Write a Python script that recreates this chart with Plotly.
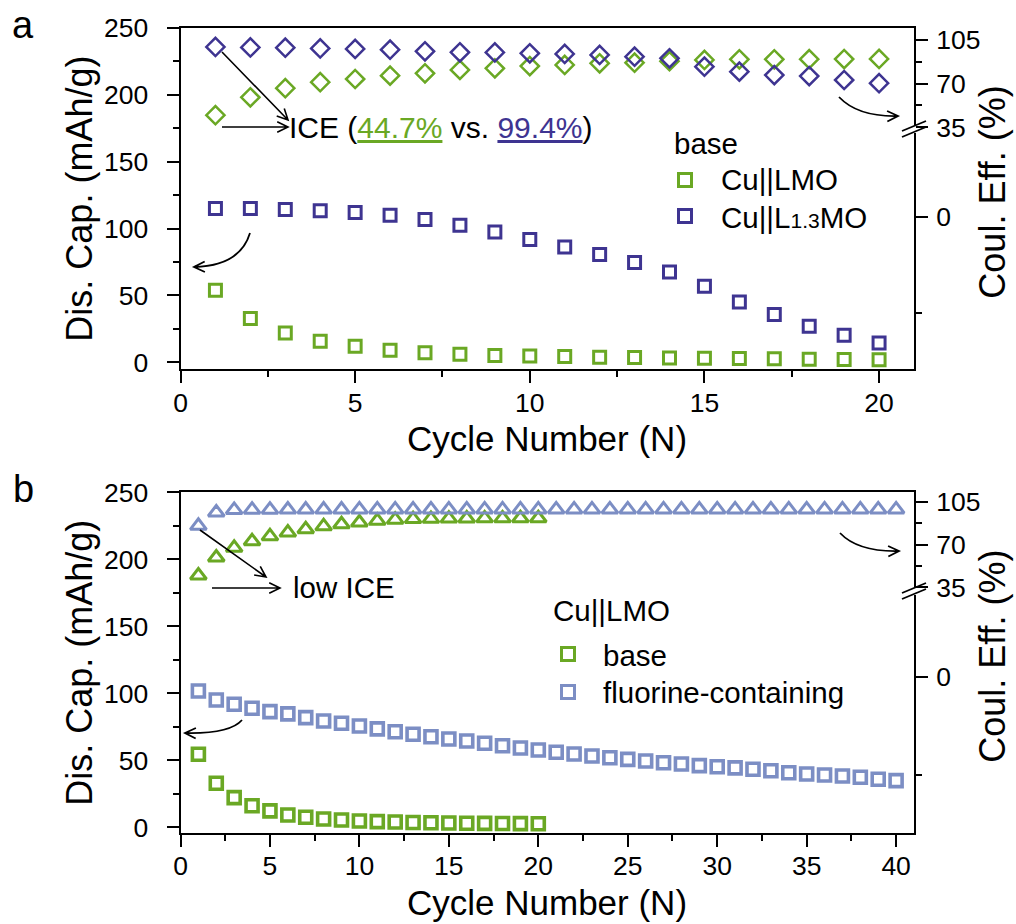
import math
import plotly.graph_objects as go

W, H = 1016, 924

# ---------------- data ----------------
cycles_a = [1, 2, 3, 4, 5, 6, 7, 8, 9, 10, 11, 12, 13, 14, 15, 16, 17, 18, 19, 20]
cap_a_lmo = [54.0, 32.7, 21.9, 15.7, 12.0, 9.0, 7.2, 6.0, 5.2, 4.7,
             4.3, 3.9, 3.6, 3.3, 3.0, 2.8, 2.6, 2.4, 2.2, 2.0]
cap_a_l13mo = [115.0, 115.0, 114.3, 113.3, 112.0, 110.0, 106.8, 102.5, 97.5, 91.8,
               86.3, 80.6, 74.6, 67.6, 56.9, 45.1, 35.7, 26.9, 20.2, 14.5]
ce_a_lmo = [44.7, 59.0, 66.3, 71.1, 73.7, 76.4, 78.3, 81.0, 82.3, 84.1,
            85.0, 86.3, 86.8, 88.0, 89.0, 89.5, 89.5, 89.6, 89.7, 89.8]
ce_a_l13mo = [99.4, 99.0, 98.8, 98.2, 97.8, 97.2, 95.9, 95.1, 95.0, 94.3,
              93.8, 93.0, 91.6, 90.3, 83.6, 79.6, 76.9, 76.1, 72.9, 70.3]

cycles_b_base = [1, 2, 3, 4, 5, 6, 7, 8, 9, 10, 11, 12, 13, 14, 15, 16, 17, 18, 19, 20]
cycles_b_fluor = [1, 2, 3, 4, 5, 6, 7, 8, 9, 10, 11, 12, 13, 14, 15, 16, 17, 18, 19, 20,
                  21, 22, 23, 24, 25, 26, 27, 28, 29, 30, 31, 32, 33, 34, 35, 36, 37, 38, 39, 40]
cap_b_base = [54.5, 32.8, 22.1, 16.1, 12.2, 9.2, 7.5, 6.2, 5.4, 4.7,
              4.2, 3.9, 3.6, 3.4, 3.2, 3.0, 2.9, 2.8, 2.7, 2.6]
cap_b_fluor = [101.7, 95.0, 91.8, 88.8, 86.3, 84.6, 81.8, 79.3, 77.6, 75.6,
               73.4, 71.3, 69.4, 67.6, 65.9, 64.4, 62.7, 60.8, 59.2, 57.7,
               56.0, 54.7, 53.2, 51.9, 50.7, 49.5, 48.2, 47.2, 46.0, 45.2,
               44.3, 43.3, 42.2, 40.7, 39.8, 39.0, 38.3, 37.3, 35.8, 34.8]
ce_b_base = [44.7, 59.4, 67.3, 72.7, 76.7, 79.8, 82.5, 84.9, 86.6, 88.0,
             89.4, 90.3, 90.8, 91.0, 91.2, 91.3, 91.4, 91.4, 91.5, 91.5]
ce_b_fluor = [85.3, 96.2, 98.3, 98.5, 98.5, 98.6, 98.6, 98.6, 98.6, 98.7,
              98.7, 98.7, 98.7, 98.7, 98.7, 98.7, 98.7, 98.7, 98.7, 98.7,
              98.7, 98.7, 98.7, 98.7, 98.7, 98.7, 98.7, 98.7, 98.7, 98.7,
              98.7, 98.7, 98.7, 98.7, 98.7, 98.7, 98.7, 98.7, 98.7, 98.7]

# broken right axis: 35-105 is linear, the "0" tick sits below the break
ce_tick_vals_a = [105, 70, 35, -36.9]
ce_minor_vals_a = [87.5, 52.5, -113.9]
ce_tick_vals_b = [105, 70, 35, -38.3]
ce_minor_vals_b = [87.5, 52.5, -118.5]
ce_tick_text = ["105", "70", "35", "0"]

GREEN = "#6aa824"
PURPLE = "#3e3491"
LBLUE = "#7c8ec4"
FONT = "Arial, Liberation Sans, Helvetica, sans-serif"


def px(x):
    return x / W


def py(y):
    return 1 - y / H


fig = go.Figure()


def add_markers(x, y, symbol, size, color, xa, ya, lw=3):
    fig.add_trace(go.Scatter(
        x=x, y=y, mode="markers", xaxis=xa, yaxis=ya, showlegend=False,
        marker=dict(symbol=symbol, size=size, color=color, line=dict(width=lw, color=color)),
        hoverinfo="x+y"))


# panel a
add_markers(cycles_a, cap_a_lmo, "square-open", 12, GREEN, "x", "y")
add_markers(cycles_a, cap_a_l13mo, "square-open", 12, PURPLE, "x", "y")
add_markers(cycles_a, ce_a_lmo, "diamond-open", 14, GREEN, "x", "y2", 2.5)
add_markers(cycles_a, ce_a_l13mo, "diamond-open", 14, PURPLE, "x", "y2", 2.5)
# panel b
add_markers(cycles_b_base, cap_b_base, "square-open", 12, GREEN, "x2", "y3", 3.6)
add_markers(cycles_b_fluor, cap_b_fluor, "square-open", 12, LBLUE, "x2", "y3", 3.6)
add_markers(cycles_b_base, ce_b_base, "triangle-up-open", 14, GREEN, "x2", "y4", 3)
add_markers(cycles_b_fluor, ce_b_fluor, "triangle-up-open", 14, LBLUE, "x2", "y4", 3)

tickfont = dict(family=FONT, size=26.5, color="black")
common = dict(showline=True, linewidth=2, linecolor="black", ticks="outside", ticklen=12,
              tickwidth=2, tickcolor="black", tickfont=tickfont, showgrid=False,
              zeroline=False, automargin=False)
minor = dict(ticks="outside", ticklen=6, tickwidth=2, tickcolor="black", showgrid=False)

xdom = [px(180.5), px(914)]
fig.update_layout(
    template="none",
    width=W, height=H, margin=dict(l=0, r=0, t=0, b=0, autoexpand=False),
    paper_bgcolor="white", plot_bgcolor="white", showlegend=False,
    xaxis=dict(domain=xdom, anchor="y", range=[0, 21], tick0=0, dtick=5, ticklabelstandoff=-3,
               minor=dict(dtick=2.5, **minor), mirror=True, **common),
    yaxis=dict(domain=[py(369.3), py(28)], anchor="x", range=[-5.2, 250], tick0=0, dtick=50,
               ticklabelstandoff=13, minor=dict(dtick=25, **minor), **common),
    yaxis2=dict(overlaying="y", side="right", anchor="x", range=[-159.1, 114.6],
                tickmode="array", tickvals=ce_tick_vals_a, ticktext=ce_tick_text,
                ticklabelstandoff=3,
                minor=dict(tickmode="array", tickvals=ce_minor_vals_a, **minor), **common),
    xaxis2=dict(domain=xdom, anchor="y3", range=[0, 41], tick0=0, dtick=5, ticklabelstandoff=-4,
                minor=dict(dtick=2.5, **minor), mirror=True, **common),
    yaxis3=dict(domain=[py(833.3), py(492.3)], anchor="x2", range=[-4.5, 250], tick0=0, dtick=50,
                ticklabelstandoff=13, minor=dict(dtick=25, **minor), **common),
    yaxis4=dict(overlaying="y3", side="right", anchor="x2", range=[-166.1, 112.7],
                tickmode="array", tickvals=ce_tick_vals_b, ticktext=ce_tick_text,
                ticklabelstandoff=3,
                minor=dict(tickmode="array", tickvals=ce_minor_vals_b, **minor), **common),
)

annotations = []


def label(text, x, y, size, xanchor="center", angle=0):
    annotations.append(dict(
        text=text, x=px(x), y=py(y), xref="paper", yref="paper", showarrow=False,
        xanchor=xanchor, yanchor="middle", textangle=angle,
        font=dict(family=FONT, size=size, color="black")))


# panel letters and axis titles
label("a", 23, 25, 38)
label("b", 23, 489, 38)
for top, bottom, ttl_y in [(28, 369.3, 439), (492.3, 833.3, 902)]:
    mid = (top + bottom) / 2
    label("Dis. Cap. (mAh/g)", 80, mid, 36, angle=-90)
    label("Coul. Eff. (%)", 993, mid - 6, 36, angle=-90)
    label("Cycle Number (N)", 547, ttl_y, 35)

# panel a texts
label("ICE (<span style='color:%s'><u>44.7%%</u></span> vs. "
      "<span style='color:%s'><u>99.4%%</u></span>)" % (GREEN, PURPLE), 287, 128, 30, "left")
label("base", 672, 143, 29.5, "left")
label("Cu||LMO", 719, 180, 29.5, "left")
label("Cu||L<span style='font-size:21px'>1.3</span>MO", 719, 217, 29.5, "left")
# panel b texts
label("low ICE", 291, 587, 29.5, "left")
label("Cu||LMO", 551, 610, 29.5, "left")
label("base", 601, 655, 29.5, "left")
label("fluorine-containing", 601, 692, 29.5, "left")

shapes = []

# legend symbols (open squares)
for cx, cy, col in [(685, 180, GREEN), (685, 216, PURPLE), (568, 654, GREEN), (568, 692, LBLUE)]:
    shapes.append(dict(type="rect", xref="paper", yref="paper",
                       x0=px(cx - 6.5), x1=px(cx + 6.5), y0=py(cy + 6.5), y1=py(cy - 6.5),
                       line=dict(color=col, width=3), fillcolor="rgba(0,0,0,0)"))


def pstr(x, y):
    return "%.5f,%.5f" % (px(x), py(y))


def arrow_head(ex, ey, dx, dy, length=12, spread=26):
    n = math.hypot(dx, dy)
    ux, uy = dx / n, dy / n
    pts = []
    for sgn in (1, -1):
        a = math.radians(spread) * sgn
        bx = -(ux * math.cos(a) - uy * math.sin(a))
        by = -(ux * math.sin(a) + uy * math.cos(a))
        pts.append((ex + bx * length, ey + by * length))
    return "M%s L%s L%s" % (pstr(*pts[0]), pstr(ex, ey), pstr(*pts[1]))


def straight_arrow(x0, y0, x1, y1, width=1.6):
    path = "M%s L%s " % (pstr(x0, y0), pstr(x1, y1)) + arrow_head(x1, y1, x1 - x0, y1 - y0)
    shapes.append(dict(type="path", xref="paper", yref="paper", path=path,
                       line=dict(color="black", width=width)))


def curved_arrow(x0, y0, cx, cy, x1, y1, width=1.8):
    path = "M%s Q%s %s " % (pstr(x0, y0), pstr(cx, cy), pstr(x1, y1)) + \
        arrow_head(x1, y1, x1 - cx, y1 - cy)
    shapes.append(dict(type="path", xref="paper", yref="paper", path=path,
                       line=dict(color="black", width=width)))


# panel a arrows
straight_arrow(222, 52, 288, 120)
straight_arrow(222, 127, 288, 127)
curved_arrow(250, 233, 240, 266, 194, 267)
curved_arrow(839, 97, 858, 117, 898, 116)
# panel b arrows
straight_arrow(200, 530, 266, 577)
straight_arrow(212, 588, 280, 588)
curved_arrow(242, 720, 230, 734, 185, 733)
curved_arrow(840, 533, 858, 552, 899, 551)

# axis-break marks on the right axes
for yb in (129, 591):
    shapes.append(dict(type="line", xref="paper", yref="paper",
                       x0=px(914), x1=px(914), y0=py(yb - 4), y1=py(yb + 4),
                       line=dict(color="white", width=4)))
    for off in (-3, 3):
        shapes.append(dict(type="line", xref="paper", yref="paper",
                           x0=px(902), y0=py(yb + off + 5), x1=px(926), y1=py(yb + off - 5),
                           line=dict(color="black", width=1.8)))

fig.update_layout(annotations=annotations, shapes=shapes)
fig.write_html("out.html")
